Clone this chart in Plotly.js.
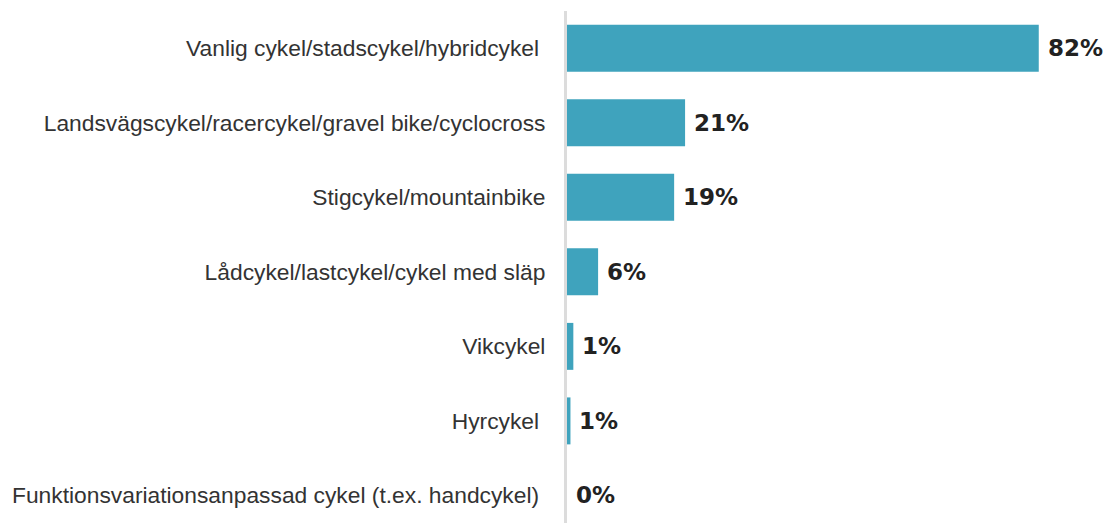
<!DOCTYPE html>
<html>
<head>
<meta charset="utf-8">
<script src="https://cdn.plot.ly/plotly-3.0.1.min.js"></script>
<style>html,body{margin:0;padding:0;background:#fff;}#chart{width:1105px;height:523px;}</style>
</head>
<body>
<div id="chart"></div>
<script>
const categories = [
  "Vanlig cykel/stadscykel/hybridcykel\u00a0",
  "Landsvägscykel/racercykel/gravel bike/cyclocross",
  "Stigcykel/mountainbike",
  "Lådcykel/lastcykel/cykel med släp",
  "Vikcykel",
  "Hyrcykel\u00a0",
  "Funktionsvariationsanpassad cykel (t.ex. handcykel)\u00a0"
];
const values = [81.9, 20.5, 18.6, 5.4, 1.1, 0.6, 0];
const labels = ["82%", "21%", "19%", "6%", "1%", "1%", "0%"];

const trace = {
  type: "bar",
  orientation: "h",
  y: categories,
  x: values,
  marker: {color: "#3fa3bd"},
  hoverinfo: "skip"
};

const annotations = categories.map((c, i) => ({
  x: values[i], y: c, xref: "x", yref: "y",
  text: labels[i], showarrow: false,
  xanchor: "left", yanchor: "middle", xshift: 7,
  font: {family: "DejaVu Sans", size: 23, color: "#222222", weight: "bold"}
}));

const layout = {
  width: 1105, height: 523,
  margin: {l: 567, r: 0, t: 11, b: 0},
  paper_bgcolor: "#ffffff", plot_bgcolor: "#ffffff",
  showlegend: false,
  bargap: 0.37,
  xaxis: {range: [0, 93.4], visible: false, fixedrange: true},
  yaxis: {
    type: "category",
    range: [6.37, -0.5],
    showline: true, linecolor: "#dcdcdc", linewidth: 3,
    showgrid: false, zeroline: false, ticks: "",
    ticklabelstandoff: 14,
    tickfont: {family: "Liberation Sans", size: 22.8, color: "#333333"},
    fixedrange: true
  },
  annotations: annotations
};

Plotly.newPlot("chart", [trace], layout, {displayModeBar: false, staticPlot: true});
</script>
</body>
</html>
